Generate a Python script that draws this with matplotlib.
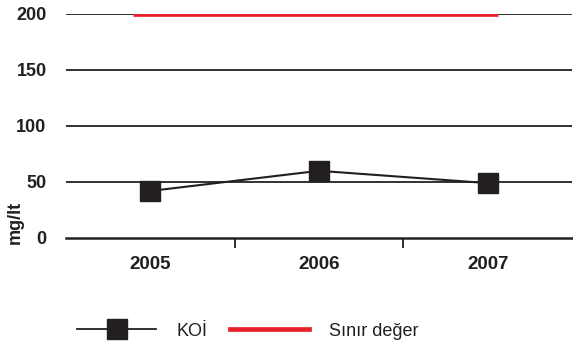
import matplotlib
matplotlib.use("Agg")
import matplotlib.pyplot as plt
from matplotlib.lines import Line2D
import numpy as np

years = ["2005", "2006", "2007"]
koi = [42, 60, 49]
limit = [200, 200, 200]
yticks = [0, 50, 100, 150, 200]

plt.rcParams['font.family'] = ['Liberation Sans', 'DejaVu Sans']

fig = plt.figure(figsize=(5.73, 3.49), dpi=100)
ax = fig.add_axes([66/573, (349-238)/349, (572-66)/573, (238-14)/349])

x = np.arange(len(years))
for yv in yticks[1:]:
    ax.axhline(yv, color='#222222', lw=1.3, zorder=1)

pad_l, pad_r = 0.1, 0.06
ax.plot([x[0]-pad_l, x[-1]+pad_r], [limit[0], limit[-1]], color='#e8202a', lw=3.4,
        solid_capstyle='butt', zorder=3)
ax.plot(x, koi, color='#231f20', lw=1.5, marker='s', markersize=14,
        markerfacecolor='#231f20', markeredgecolor='#231f20', zorder=4)

ax.set_xlim(-0.5, 2.5)
ax.set_ylim(0, 200)
ax.set_yticks(yticks)
ax.set_yticklabels([str(v) for v in yticks], fontsize=13, fontweight='bold', color='#231f20')
ax.tick_params(axis='y', length=0, pad=14)
ax.set_xticks(x)
ax.set_xticklabels(years, fontsize=13.5, fontweight='bold', color='#231f20')
ax.tick_params(axis='x', which='major', length=0, pad=13)
ax.set_xticks([0.5, 1.5], minor=True)
ax.tick_params(axis='x', which='minor', length=7, width=1.3, color='#222222', direction='out')
for s in ['top', 'right', 'left']:
    ax.spines[s].set_visible(False)
ax.spines['bottom'].set_linewidth(1.8)
ax.spines['bottom'].set_color('#222222')

fig.text(15/573, (349-222)/349, "mg/lt", rotation=90, fontsize=13, fontweight='bold',
         color='#231f20', ha='center', va='center')

h1 = Line2D([], [], color='#231f20', lw=1.3, marker='s', markersize=14)
h2 = Line2D([], [], color='#e8202a', lw=3.4)
fig.legend([h1, h2], ["KOİ", "Sınır değer"], loc='center left',
           bbox_to_anchor=(77/573, (349-331)/349), borderpad=0, borderaxespad=0,
           ncol=2, frameon=False, fontsize=13, handlelength=4.4, columnspacing=1.25,
           handletextpad=1.1, labelcolor='#231f20')

fig.savefig("out.png", dpi=100)
